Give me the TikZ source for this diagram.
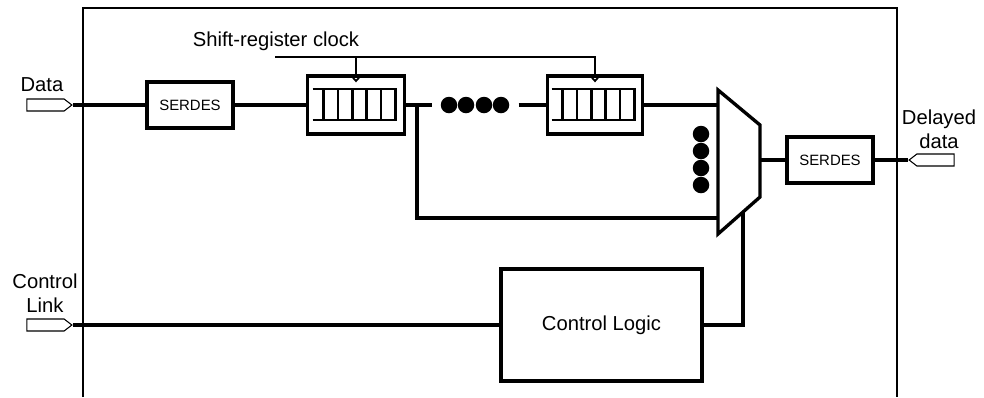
\documentclass[tikz,border=0pt]{standalone}
\usepackage{fontspec}
\setmainfont{Liberation Sans}
\usetikzlibrary{shapes.symbols,positioning,calc}
\tikzstyle{box} = [rectangle, draw=black, line width=1.9pt, minimum width=1.72cm, minimum height=0.92cm, align=center, font=\fontsize{8.5}{10}\selectfont]
\tikzstyle{shreg} = [rectangle, draw=black, line width=1.9pt, minimum width=1.94cm, minimum height=1.16cm,
  path picture={
    \begin{scope}[shift={(path picture bounding box.center)}, line width=1.5pt]
      \draw (-0.87cm,0.32cm) -- (0.83cm,0.32cm);
      \draw (-0.87cm,-0.30cm) -- (0.83cm,-0.30cm);
      \foreach \i in {0,...,5}
        \draw (-0.65cm+\i*0.288cm,0.32cm) -- (-0.65cm+\i*0.288cm,-0.30cm);
      \draw[line width=1pt] (-0.09cm,0.58cm) -- (0cm,0.48cm) -- (0.09cm,0.58cm);
    \end{scope}}]
\tikzstyle{port} = [signal, draw=black, line width=0.6pt, inner sep=0pt, minimum width=0.9cm, minimum height=0.24cm, signal pointer angle=75]
\tikzstyle{wire} = [line width=1.8pt]
\tikzstyle{dot} = [circle, fill=black, inner sep=0pt, minimum size=0.33cm]
\tikzstyle{lbl} = [align=center, font=\fontsize{11.5}{13.5}\selectfont]

\begin{document}
\begin{tikzpicture}[x=0.02cm, y=-0.02cm]
  \useasboundingbox (0,0) rectangle (984,397);
  % chip outline, open at the bottom
  \draw[line width=0.8pt] (83,397) |- (897,8) -- (897,397);

  % ports and labels
  \node[port, signal to=east] (inData) at (45.5,105) {};
  \node[lbl] (dataLbl) at (42,85) {Data};
  \node[port, signal to=east] (inCtrl) at (45.5,325) {};
  \node[lbl] (ctrlLbl) at (45,293) {Control\\Link};
  \node[port, signal to=west] (outData) at (935.5,160) {};
  \node[lbl] (outLbl) at (939,129) {Delayed\\data};

  % data path
  \node[box] (serdesA) at (190,105) {SERDES};
  \node[shreg] (regA) at (356,105) {};
  \node[dot] (dotA) at (449,105) {};
  \node[dot] (dotB) at (466,105) {};
  \node[dot] (dotC) at (484,105) {};
  \node[dot] (dotD) at (501,105) {};
  \node[shreg, minimum width=1.9cm] (regB) at (595,105) {};
  \node[box] (serdesB) at (830,160) {SERDES};
  \node[lbl] (clkLbl) at (276,41) {Shift-register clock};

  % multiplexer
  \coordinate (m1) at (718,90);
  \coordinate (m2) at (760,125);
  \coordinate (m3) at (760,197);
  \coordinate (m4) at (718,234);
  \draw[wire, line width=1.9pt, line join=miter] (m1) -- (m2) -- (m3) -- (m4) -- cycle;
  \coordinate (muxinA) at (718,105);
  \coordinate (muxinB) at (718,218);
  \coordinate (muxout) at (760,160);
  \coordinate (muxsel) at (743,212);
  \node[dot] (vdotA) at (701,134) {};
  \node[dot] (vdotB) at (701,151) {};
  \node[dot] (vdotC) at (701,168) {};
  \node[dot] (vdotD) at (701,185) {};

  \node[box, minimum width=4.02cm, minimum height=2.24cm, font=\fontsize{11.5}{13.5}\selectfont] (ctrl) at (601.5,325) {Control Logic};

  % wires
  \coordinate (clk) at (275,57);
  \coordinate (tap) at (417,105);
  \draw[line width=1.3pt] (clk) -| (regB.north);
  \draw[line width=1.3pt] (clk -| regA.north) -- (regA.north);
  \draw[wire] (inData.east) -- (serdesA.west);
  \draw[wire] (serdesA) -- (regA);
  \draw[wire, shorten >=0.16cm] (regA.east) -- (dotA.west);
  \draw[wire, shorten <=0.18cm] (dotD.east) -- (regB.west);
  \draw[wire] (regB.east) -- (muxinA);
  \draw[wire] (tap) |- (muxinB);
  \draw[wire] (muxout) -- (serdesB.west);
  \draw[wire] (serdesB.east) -- (outData.west);
  \draw[wire] (inCtrl.east) -- (ctrl.west);
  \draw[wire] (ctrl.east) -| (muxsel);
\end{tikzpicture}
\end{document}
